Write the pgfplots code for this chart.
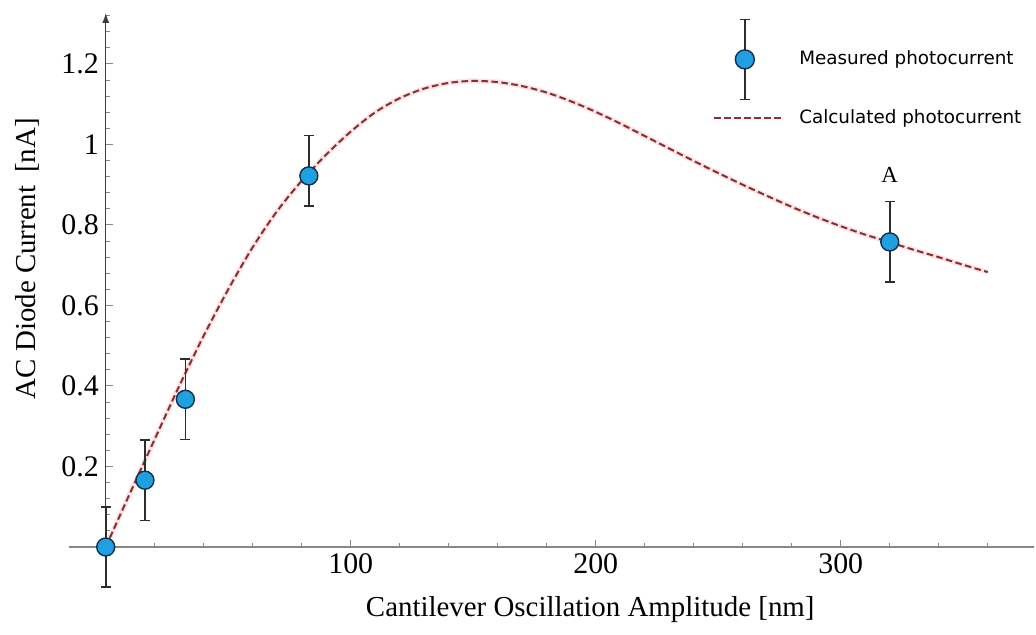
\documentclass[border=0pt]{standalone}
\usepackage{fontspec}
\setmainfont{Liberation Serif}
\newfontfamily\legfont{DejaVu Sans}
\usepackage{pgfplots}
\pgfplotsset{compat=1.18}
\usetikzlibrary{arrows.meta}
\definecolor{mfill}{RGB}{30,160,225}
\definecolor{mdraw}{RGB}{20,45,75}
\definecolor{errc}{RGB}{45,45,45}
\definecolor{curvec}{RGB}{140,45,50}
\definecolor{halo}{RGB}{250,228,228}
\definecolor{xaxc}{RGB}{135,135,135}
\definecolor{yaxc}{RGB}{60,60,60}

\pgfplotstableread{
x y
0 0.0
10 0.135
20 0.268
30 0.40
40 0.525
50 0.64
60 0.745
70 0.835
80 0.91
90 0.975
100 1.032
110 1.080
120 1.115
130 1.139
140 1.153
150 1.158
160 1.155
170 1.145
180 1.129
190 1.107
200 1.081
210 1.052
220 1.021
230 0.990
240 0.959
250 0.929
260 0.900
270 0.872
280 0.845
290 0.820
300 0.797
310 0.776
320 0.757
330 0.738
340 0.720
350 0.701
360 0.683
}\calc

\begin{document}
\begin{tikzpicture}
\begin{axis}[
  scale only axis,
  width=482.65bp, height=267.06bp,
  xmin=-15, xmax=379, ymin=0, ymax=1.327,
  axis lines=middle,
  clip=false,
  x axis line style={xaxc, line width=0.8bp, -},
  y axis line style={yaxc, line width=0.7bp, -{Latex[length=5bp,width=3.5bp]}},
  xtick={100,200,300},
  ytick={0.2,0.4,0.6,0.8,1,1.2},
  minor xtick={20,40,...,360},
  minor ytick={0.04,0.08,...,1.3},
  tick align=inside,
  major tick length=3.5bp, minor tick length=2bp,
  every tick/.style={xaxc, line width=0.5bp},
  tick label style={font=\fontsize{15}{17}\selectfont},
  /pgf/number format/assume math mode=true,
  every axis x label/.style={at={(axis description cs:0.54,-0.118)}, anchor=center, font=\fontsize{14.5}{17}\selectfont},
  every axis y label/.style={at={(axis description cs:-0.0436,0.54)}, anchor=center, rotate=90, font=\fontsize{14.5}{17}\selectfont},
  xlabel={Cantilever Oscillation Amplitude [nm]},
  ylabel={AC Diode Current\hspace{0.45em}[nA]},
  legend style={draw=none, fill=none, at={(axis description cs:0.667,0.99)}, anchor=north west,
    font=\legfont\fontsize{9.2}{11}\selectfont, inner sep=0pt, row sep=2.5bp},
  legend cell align=left,
  reverse legend,
]
\coordinate (bbll) at (rel axis cs:0,0);
\addplot[halo, line width=2.5bp, smooth, forget plot] table[x=x,y=y] {\calc};
\addplot[curvec, line width=1bp, dash pattern=on 3.3bp off 1.7bp, smooth,
  legend image code/.code={
    \path[draw=none, fill=none] (0bp,0bp) -- (39.5bp,0bp);
    \draw[curvec, line width=1bp, dash pattern=on 3.3bp off 1.7bp] (0bp,0bp) -- (33.5bp,0bp);}]
  table[x=x,y=y] {\calc};
\addlegendentry{Calculated photocurrent}
\addplot[only marks, mark=*, mark size=4.5bp,
  mark options={fill=mfill, draw=mdraw, line width=0.7bp},
  legend image code/.code={
    \path[draw=none, fill=none] (0bp,0bp) -- (40.5bp,0bp);
    \draw[errc, line width=0.8bp] (15.3bp,-20bp) -- (15.3bp,20bp) (12.8bp,-20bp) -- (17.8bp,-20bp) (12.8bp,20bp) -- (17.8bp,20bp);
    \draw[fill=mfill, draw=mdraw, line width=0.7bp] (15.3bp,0bp) circle (4.75bp);
  },
  error bars/.cd, y dir=both, y explicit,
  error bar style={errc, line width=0.8bp},
  error mark options={rotate=90, errc, mark size=2.5bp, line width=0.8bp}]
coordinates {
(0,0) +- (0,0.1)
(16,0.166) +- (0,0.1)
(32.5,0.367) +- (0,0.1)
(82.9,0.922) += (0,0.1) -= (0,0.075)
(320,0.758) +- (0,0.1)
};
\addlegendentry{Measured photocurrent}
\node[font=\fontsize{11.5}{13}\selectfont] at (axis cs:320,0.925) {A};
\end{axis}
\pgfresetboundingbox
\path ([shift={(-34.5bp,-44bp)}]bbll) rectangle ([shift={(483.5bp,273.5bp)}]bbll);
\end{tikzpicture}
\end{document}
